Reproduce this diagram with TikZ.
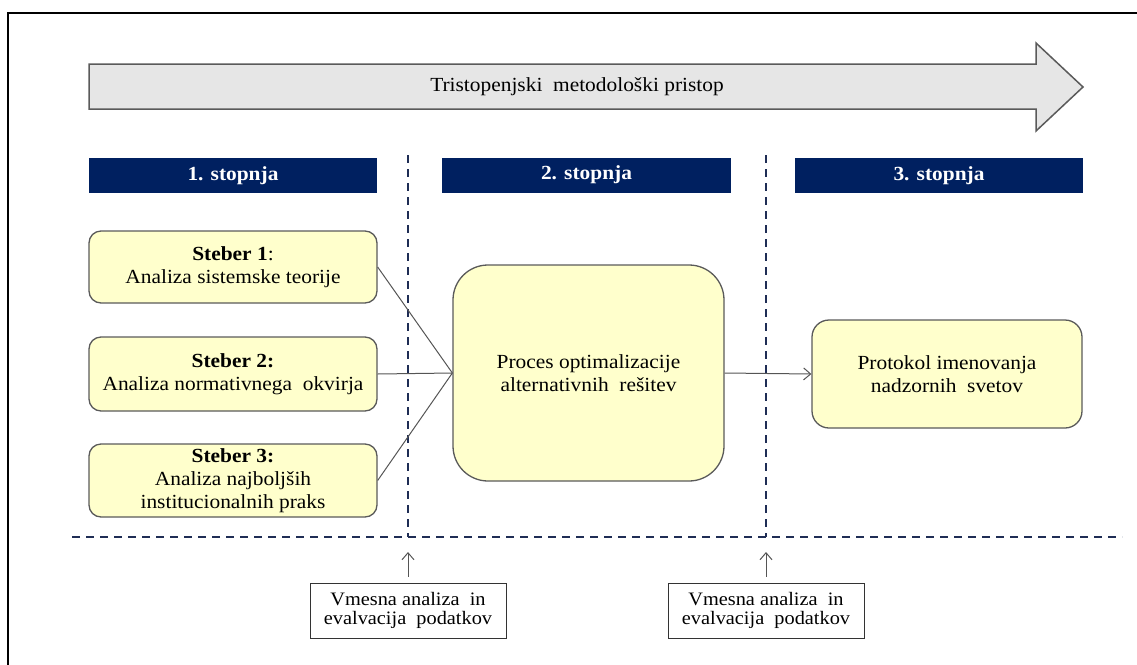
\documentclass[tikz,border=0pt]{standalone}
\usepackage{fontspec}
\setmainfont{Liberation Serif}[FakeStretch=1.07]
\usetikzlibrary{arrows.meta}
\definecolor{navyblue}{HTML}{002060}
\definecolor{dashnavy}{HTML}{1F2D55}
\definecolor{paleyellow}{HTML}{FFFFCC}
\definecolor{boxline}{HTML}{5A5A5A}
\definecolor{arrowfill}{HTML}{E6E6E6}
\definecolor{linkgray}{HTML}{555555}
\tikzset{
  pillar/.style={draw=boxline, line width=1.3pt, fill=paleyellow, rounded corners=12pt,
    minimum width=288pt, inner sep=0pt, align=center, font=\fontsize{20}{23}\selectfont},
  bigbox/.style={draw=boxline, line width=1.3pt, fill=paleyellow, inner sep=0pt,
    align=center, font=\fontsize{20}{23}\selectfont},
  stagebar/.style={fill=navyblue, minimum width=288pt, minimum height=35pt, inner sep=0pt,
    text=white, font=\fontsize{20}{23}\selectfont\bfseries},
  notebox/.style={draw=black!80, line width=1pt, fill=white, minimum width=196pt,
    minimum height=55pt, inner sep=0pt, align=center, font=\fontsize{19}{19}\selectfont},
  divider/.style={draw=dashnavy, line width=2pt, dash pattern=on 8pt off 6pt},
  link/.style={draw=linkgray, line width=1pt},
  tip/.style={-{Straight Barb[length=7pt,width=12pt]}}
}
\begin{document}
\begin{tikzpicture}[x=1pt, y=-1pt]
  \useasboundingbox (0,0) rectangle (1137,664);
  % frame
  \draw[line width=2pt] (8,13) rectangle (1160,690);

  % big process arrow
  \draw[draw=boxline, line width=1.5pt, fill=arrowfill]
    (89,64) -- (1036,64) -- (1036,43) -- (1083,87) -- (1036,131) -- (1036,109) -- (89,109) -- cycle;
  \node[font=\fontsize{20}{23}\selectfont] (title) at (577,87) {Tristopenjski\ \ metodološki pristop};

  % stage headers
  \node[stagebar] (h1) at (233,175.5) {1. stopnja};
  \node[stagebar, minimum width=289pt] (h2) at (586.5,175) {2. stopnja};
  \node[stagebar] (h3) at (939,175.5) {3. stopnja};

  % dividers
  \draw[divider] (408,155) -- (408,537);
  \draw[divider] (766,155) -- (766,537);
  \draw[divider] (72,537) -- (1122,537);

  % pillars
  \node[pillar, minimum height=72pt] (s1) at (233,267) {\textbf{Steber 1}:\\Analiza sistemske teorije};
  \node[pillar, minimum height=74pt] (s2) at (233,374) {\textbf{Steber 2:}\\Analiza normativnega\ \ okvirja};
  \node[pillar, minimum height=73pt] (s3) at (233,480.5) {\textbf{Steber 3:}\\Analiza najboljših\\institucionalnih praks};

  % optimisation and protocol
  \node[bigbox, rounded corners=35pt, minimum width=271pt, minimum height=216pt] (proc) at (588.5,373)
    {Proces optimalizacije\\alternativnih\ \ rešitev};
  \node[bigbox, rounded corners=17pt, minimum width=270pt, minimum height=108pt] (prot) at (947,374)
    {Protokol imenovanja\\nadzornih\ \ svetov};

  % connectors
  \draw[link] (s1.east) -- (proc.west);
  \draw[link] (s2.east) -- (proc.west);
  \draw[link] (s3.east) -- (proc.west);
  \draw[link, tip] (proc.east) -- (prot.west);

  % interim analysis notes
  \node[notebox] (v1) at (408,610.5) {Vmesna analiza\ \ in\\evalvacija\ \ podatkov};
  \node[notebox] (v2) at (766,610.5) {Vmesna analiza\ \ in\\evalvacija\ \ podatkov};
  \coordinate (u1) at (408,552);
  \coordinate (u2) at (766,552);
  \draw[link, tip, shorten <=6pt] (v1.north) -- (u1);
  \draw[link, tip, shorten <=6pt] (v2.north) -- (u2);
\end{tikzpicture}
\end{document}
